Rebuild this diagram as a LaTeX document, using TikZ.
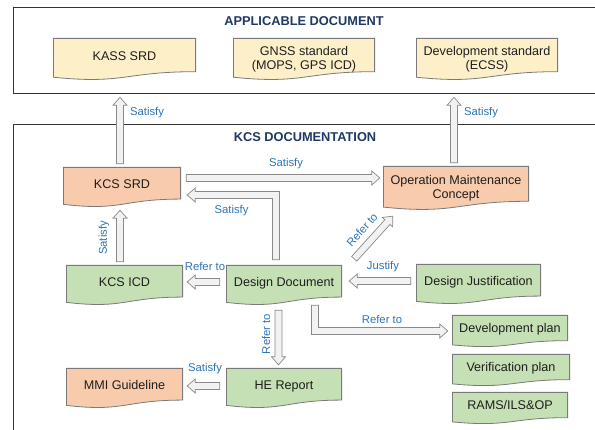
\documentclass[tikz,border=0pt]{standalone}
\usepackage{fontspec}
\setmainfont{Liberation Sans}
\usetikzlibrary{calc}

\definecolor{docyellow}{HTML}{FDF0C8}
\definecolor{docorange}{HTML}{F8CBAD}
\definecolor{docgreen}{HTML}{C5E0B4}
\definecolor{docline}{HTML}{7A7A7A}
\definecolor{arrowfill}{HTML}{F2F2F2}
\definecolor{arrowline}{HTML}{8A8A8A}
\definecolor{lblblue}{HTML}{2E75B6}
\definecolor{titlenavy}{HTML}{1F3864}
\definecolor{framegray}{HTML}{333333}
\definecolor{textdark}{HTML}{1E1E1E}

% block arrow dimensions
\newcommand\arrShaft{3.5pt}
\newcommand\arrWing{7pt}
\newcommand\arrHead{8pt}

\tikzset{
  frame/.style={draw=framegray, line width=1.3pt, inner sep=0pt},
  title/.style={text=titlenavy, font=\fontsize{12.8}{14}\selectfont\bfseries, inner sep=0pt},
  lbl/.style={text=lblblue, font=\fontsize{11.3}{13}\selectfont, inner sep=0pt},
  % flowchart "document" shape with a wavy bottom edge
  doc/.style={inner sep=0pt, text=textdark,
    path picture={
      \path[fill=#1, draw=docline, line width=0.8pt, line join=miter]
        let \p1=(path picture bounding box.north west),
            \p2=(path picture bounding box.south east) in
        (\x1+0.4pt,\y1-0.4pt) -- (\x2-0.4pt,\y1-0.4pt)
        -- (\x2-0.4pt,{\y1-0.802*(\y1-\y2)})
        .. controls ({(\x1+\x2)/2},{\y1-0.802*(\y1-\y2)})
               and ({(\x1+\x2)/2},{\y1-1.107*(\y1-\y2)}) ..
        (\x1+0.4pt,{\y1-0.934*(\y1-\y2)}) -- cycle;
    }},
  oneline/.style={text height=8pt, text depth=4pt},
  % straight block arrow between two points
  blockarrow/.style={draw=arrowline, fill=arrowfill, line width=0.7pt, line join=miter,
    to path={
      ($(\tikztostart)!\arrShaft!90:(\tikztotarget)$)
      -- ($(\tikztotarget)!\arrHead!(\tikztostart)!\arrShaft!-90:(\tikztostart)$)
      -- ($(\tikztotarget)!\arrHead!(\tikztostart)!\arrWing!-90:(\tikztostart)$)
      -- (\tikztotarget)
      -- ($(\tikztotarget)!\arrHead!(\tikztostart)!\arrWing!90:(\tikztostart)$)
      -- ($(\tikztotarget)!\arrHead!(\tikztostart)!\arrShaft!90:(\tikztostart)$)
      -- ($(\tikztostart)!\arrShaft!-90:(\tikztotarget)$)
      -- cycle}},
  bentarrow/.style={draw=arrowline, fill=arrowfill, line width=0.7pt, line join=miter}
}

\begin{document}
\begin{tikzpicture}[x=1pt, y=-1pt, font=\fontsize{12.6}{14}\selectfont]
\useasboundingbox (0,0) rectangle (595,430);
\fill[white] (0,0) rectangle (595,430);
\clip (0,0) rectangle (595,430);

% ---- frames ----
\node[frame, minimum width=592pt, minimum height=86pt, anchor=north west] (appl) at (13,7) {};
\node[frame, minimum width=592pt, minimum height=330pt, anchor=north west] (kcs) at (13,124) {};
\node[title] (tappl) at (304,21) {APPLICABLE DOCUMENT};
\node[title] (tkcs) at (305,137) {KCS DOCUMENTATION};

% ---- applicable documents ----
\node[doc=docyellow, oneline, minimum width=143pt, minimum height=42pt] (kass) at (124.5,59) {KASS SRD};
\node[doc=docyellow, align=center, minimum width=142pt, minimum height=42pt] (gnss) at (304,59) {GNSS standard\\(MOPS, GPS ICD)};
\node[doc=docyellow, align=center, minimum width=142pt, minimum height=42pt] (devstd) at (487,59) {Development standard\\(ECSS)};

% ---- KCS documentation ----
\node[doc=docorange, oneline, minimum width=118pt, minimum height=40pt] (srd) at (122,187) {KCS SRD};
\node[doc=docorange, align=center, minimum width=146pt, minimum height=44pt] (omc) at (456,188) {Operation Maintenance\\Concept};
\node[doc=docgreen, oneline, minimum width=117pt, minimum height=40pt] (icd) at (124.5,285) {KCS ICD};
\node[doc=docgreen, oneline, minimum width=116pt, minimum height=40pt] (dd) at (284,285) {Design Document};
\node[doc=docgreen, oneline, minimum width=125pt, minimum height=40pt] (dj) at (478.5,284) {Design Justification};
\node[doc=docgreen, oneline, minimum width=116pt, minimum height=32pt] (devp) at (510,331) {Development plan};
\node[doc=docgreen, oneline, minimum width=118pt, minimum height=32pt] (verp) at (511,370) {Verification plan};
\node[doc=docgreen, oneline, minimum width=116pt, minimum height=32pt] (rams) at (510,408) {RAMS/ILS\&OP};
\node[doc=docgreen, oneline, minimum width=116pt, minimum height=40pt] (he) at (284,388) {HE Report};
\node[doc=docorange, oneline, minimum width=117pt, minimum height=40pt] (mmi) at (124.5,388) {MMI Guideline};

% ---- arrow end points ----
\coordinate (s1) at ($(srd.north)+(-2,-3)$);
\coordinate (e1) at ($(appl.south -| s1)+(0,3)$);
\coordinate (s2) at ($(omc.north)+(-2,-3)$);
\coordinate (e2) at ($(appl.south -| s2)+(0,3)$);
\coordinate (s3) at ($(srd.east)+(5,-9)$);
\coordinate (e3) at ($(omc.west |- s3)+(-3,0)$);
\coordinate (s4) at ($(dd.north)+(-8,-5)$);
\coordinate (e4) at ($(srd.east)+(6,8)$);
\coordinate (k4) at (s4 |- e4);
\coordinate (s5) at ($(icd.north)+(-4.5,-3)$);
\coordinate (e5) at ($(srd.south -| s5)+(0,3)$);
\coordinate (s6) at ($(dd.west)+(-6,-3)$);
\coordinate (e6) at ($(icd.east |- s6)+(4,0)$);
\coordinate (s7) at ($(dj.west)+(-5,-3)$);
\coordinate (e7) at ($(dd.east |- s7)+(7,0)$);
\coordinate (s8) at ($(dd.north east)+(12,-6)$);
\coordinate (e8) at ($(omc.south west)+(10,6)$);
\coordinate (s9) at ($(dd.south)+(-5.5,5)$);
\coordinate (e9) at ($(he.north)+(-5.5,-3)$);
\coordinate (s10) at ($(dd.south)+(31,0)$);
\coordinate (e10) at ($(devp.west)+(-4,0)$);
\coordinate (k10) at (s10 |- e10);
\coordinate (s11) at ($(he.west)+(-6,-2)$);
\coordinate (e11) at ($(mmi.east |- s11)+(4,0)$);

% ---- straight block arrows ----
\draw[blockarrow] (s1) to (e1);
\draw[blockarrow] (s2) to (e2);
\draw[blockarrow] (s3) to (e3);
\draw[blockarrow] (s5) to (e5);
\draw[blockarrow] (s6) to (e6);
\draw[blockarrow] (s7) to (e7);
\draw[blockarrow] (s8) to (e8);
\draw[blockarrow] (s9) to (e9);
\draw[blockarrow] (s11) to (e11);

% ---- bent block arrows ----
\draw[bentarrow]
  ($(s4)+(-3.5,0)$) -- ($(s4)+(3.5,0)$) -- ($(k4)+(3.5,-3.5)$)
  -- ($(e4)+(8,-3.5)$) -- ($(e4)+(8,-7)$) -- (e4) -- ($(e4)+(8,7)$)
  -- ($(e4)+(8,3.5)$) -- ($(k4)+(-3.5,3.5)$) -- cycle;
\draw[bentarrow]
  ($(s10)+(-3.5,0)$) -- ($(k10)+(-3.5,3.5)$) -- ($(e10)+(-8,3.5)$)
  -- ($(e10)+(-8,7)$) -- (e10) -- ($(e10)+(-8,-7)$) -- ($(e10)+(-8,-3.5)$)
  -- ($(k10)+(3.5,-3.5)$) -- ($(s10)+(3.5,0)$) -- cycle;

% ---- connector labels ----
\node[lbl] (l1) at (147,113) {Satisfy};
\node[lbl] (l2) at (481,113) {Satisfy};
\node[lbl] (l3) at (286,164) {Satisfy};
\node[lbl] (l4) at (231.5,211) {Satisfy};
\node[lbl, rotate=90] (l5) at (104,238) {Satisfy};
\node[lbl] (l6) at (205,266) {Refer to};
\node[lbl] (l7) at (383,267) {Justify};
\node[lbl, rotate=48] (l8) at (362,230) {Refer to};
\node[lbl, rotate=90] (l9) at (266,334) {Refer to};
\node[lbl] (l10) at (382,319) {Refer to};
\node[lbl] (l11) at (205,369) {Satisfy};
\end{tikzpicture}
\end{document}
